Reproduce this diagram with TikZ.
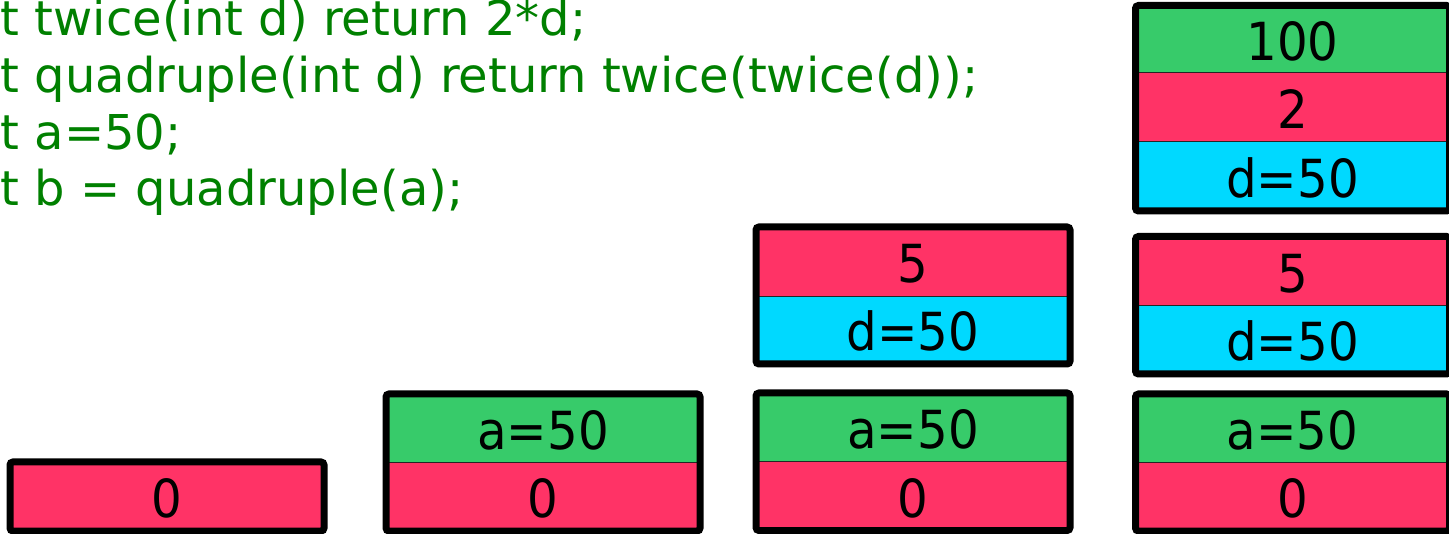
\documentclass[tikz,border=0pt]{standalone}
\usepackage{fontspec}
\setmainfont{DejaVu Sans}
\newfontfamily\boxfont[FakeStretch=0.92]{DejaVu Sans}
\definecolor{cgreen}{HTML}{37CB6A}
\definecolor{cred}{HTML}{FF3366}
\definecolor{ccyan}{HTML}{00D9FF}
\definecolor{codegreen}{HTML}{008000}
\tikzset{
  cell/.style={draw=black!85, line width=1pt, minimum width=313pt, inner sep=0pt,
    text height=42pt, text depth=0pt, font=\boxfont\fontsize{52.5}{60}\selectfont},
  gcell/.style={cell, fill=cgreen},
  rcell/.style={cell, fill=cred},
  ccell/.style={cell, fill=ccyan},
  frame/.style={draw=black, line width=7pt, rounded corners=3pt},
  code/.style={anchor=base west, inner sep=0pt, text=codegreen, font=\fontsize{48}{57}\selectfont}
}
\begin{document}
\begin{tikzpicture}[x=1pt,y=-1pt]
\useasboundingbox (0,0) rectangle (1449,534);
% code
\node[code] (l1) at (0.5,36) {t twice(int d) return 2*d;};
\node[code] (l2) at (0.5,93) {t quadruple(int d) return twice(twice(d));};
\node[code] (l3) at (0.5,149.5) {t a=50;};
\node[code] (l4) at (0.5,206) {t b = quadruple(a);};
% box 1
\node[rcell, minimum height=68pt] (b1a) at (167,496.5) {0};
\draw[frame] (b1a.north west) rectangle (b1a.south east);
% box 2
\node[gcell, minimum height=68.5pt] (b2a) at (543,428.75) {a=50};
\node[rcell, minimum height=67.5pt] (b2b) at (543,496.75) {0};
\draw[frame] (b2a.north west) rectangle (b2b.south east);
% box 3 upper
\node[rcell, minimum height=69pt] (b3a) at (913,262) {5};
\node[ccell, minimum height=67pt] (b3b) at (913,330) {d=50};
\draw[frame] (b3a.north west) rectangle (b3b.south east);
% box 3 lower
\node[gcell, minimum height=68.5pt] (b3c) at (913,427.75) {a=50};
\node[rcell, minimum height=68pt] (b3d) at (913,496) {0};
\draw[frame] (b3c.north west) rectangle (b3d.south east);
% box 4 top
\node[gcell, minimum height=67pt] (b4a) at (1292.5,39.5) {100};
\node[rcell, minimum height=69pt] (b4b) at (1292.5,107.5) {2};
\node[ccell, minimum height=68.5pt] (b4c) at (1292.5,176.25) {d=50};
\draw[frame] (b4a.north west) rectangle (b4c.south east);
% box 4 middle
\node[rcell, minimum height=69pt] (b4d) at (1292.5,271.5) {5};
\node[ccell, minimum height=67.5pt] (b4e) at (1292.5,339.75) {d=50};
\draw[frame] (b4d.north west) rectangle (b4e.south east);
% box 4 bottom
\node[gcell, minimum height=68.5pt] (b4f) at (1292.5,428.75) {a=50};
\node[rcell, minimum height=67.5pt] (b4g) at (1292.5,496.75) {0};
\draw[frame] (b4f.north west) rectangle (b4g.south east);
\end{tikzpicture}
\end{document}
